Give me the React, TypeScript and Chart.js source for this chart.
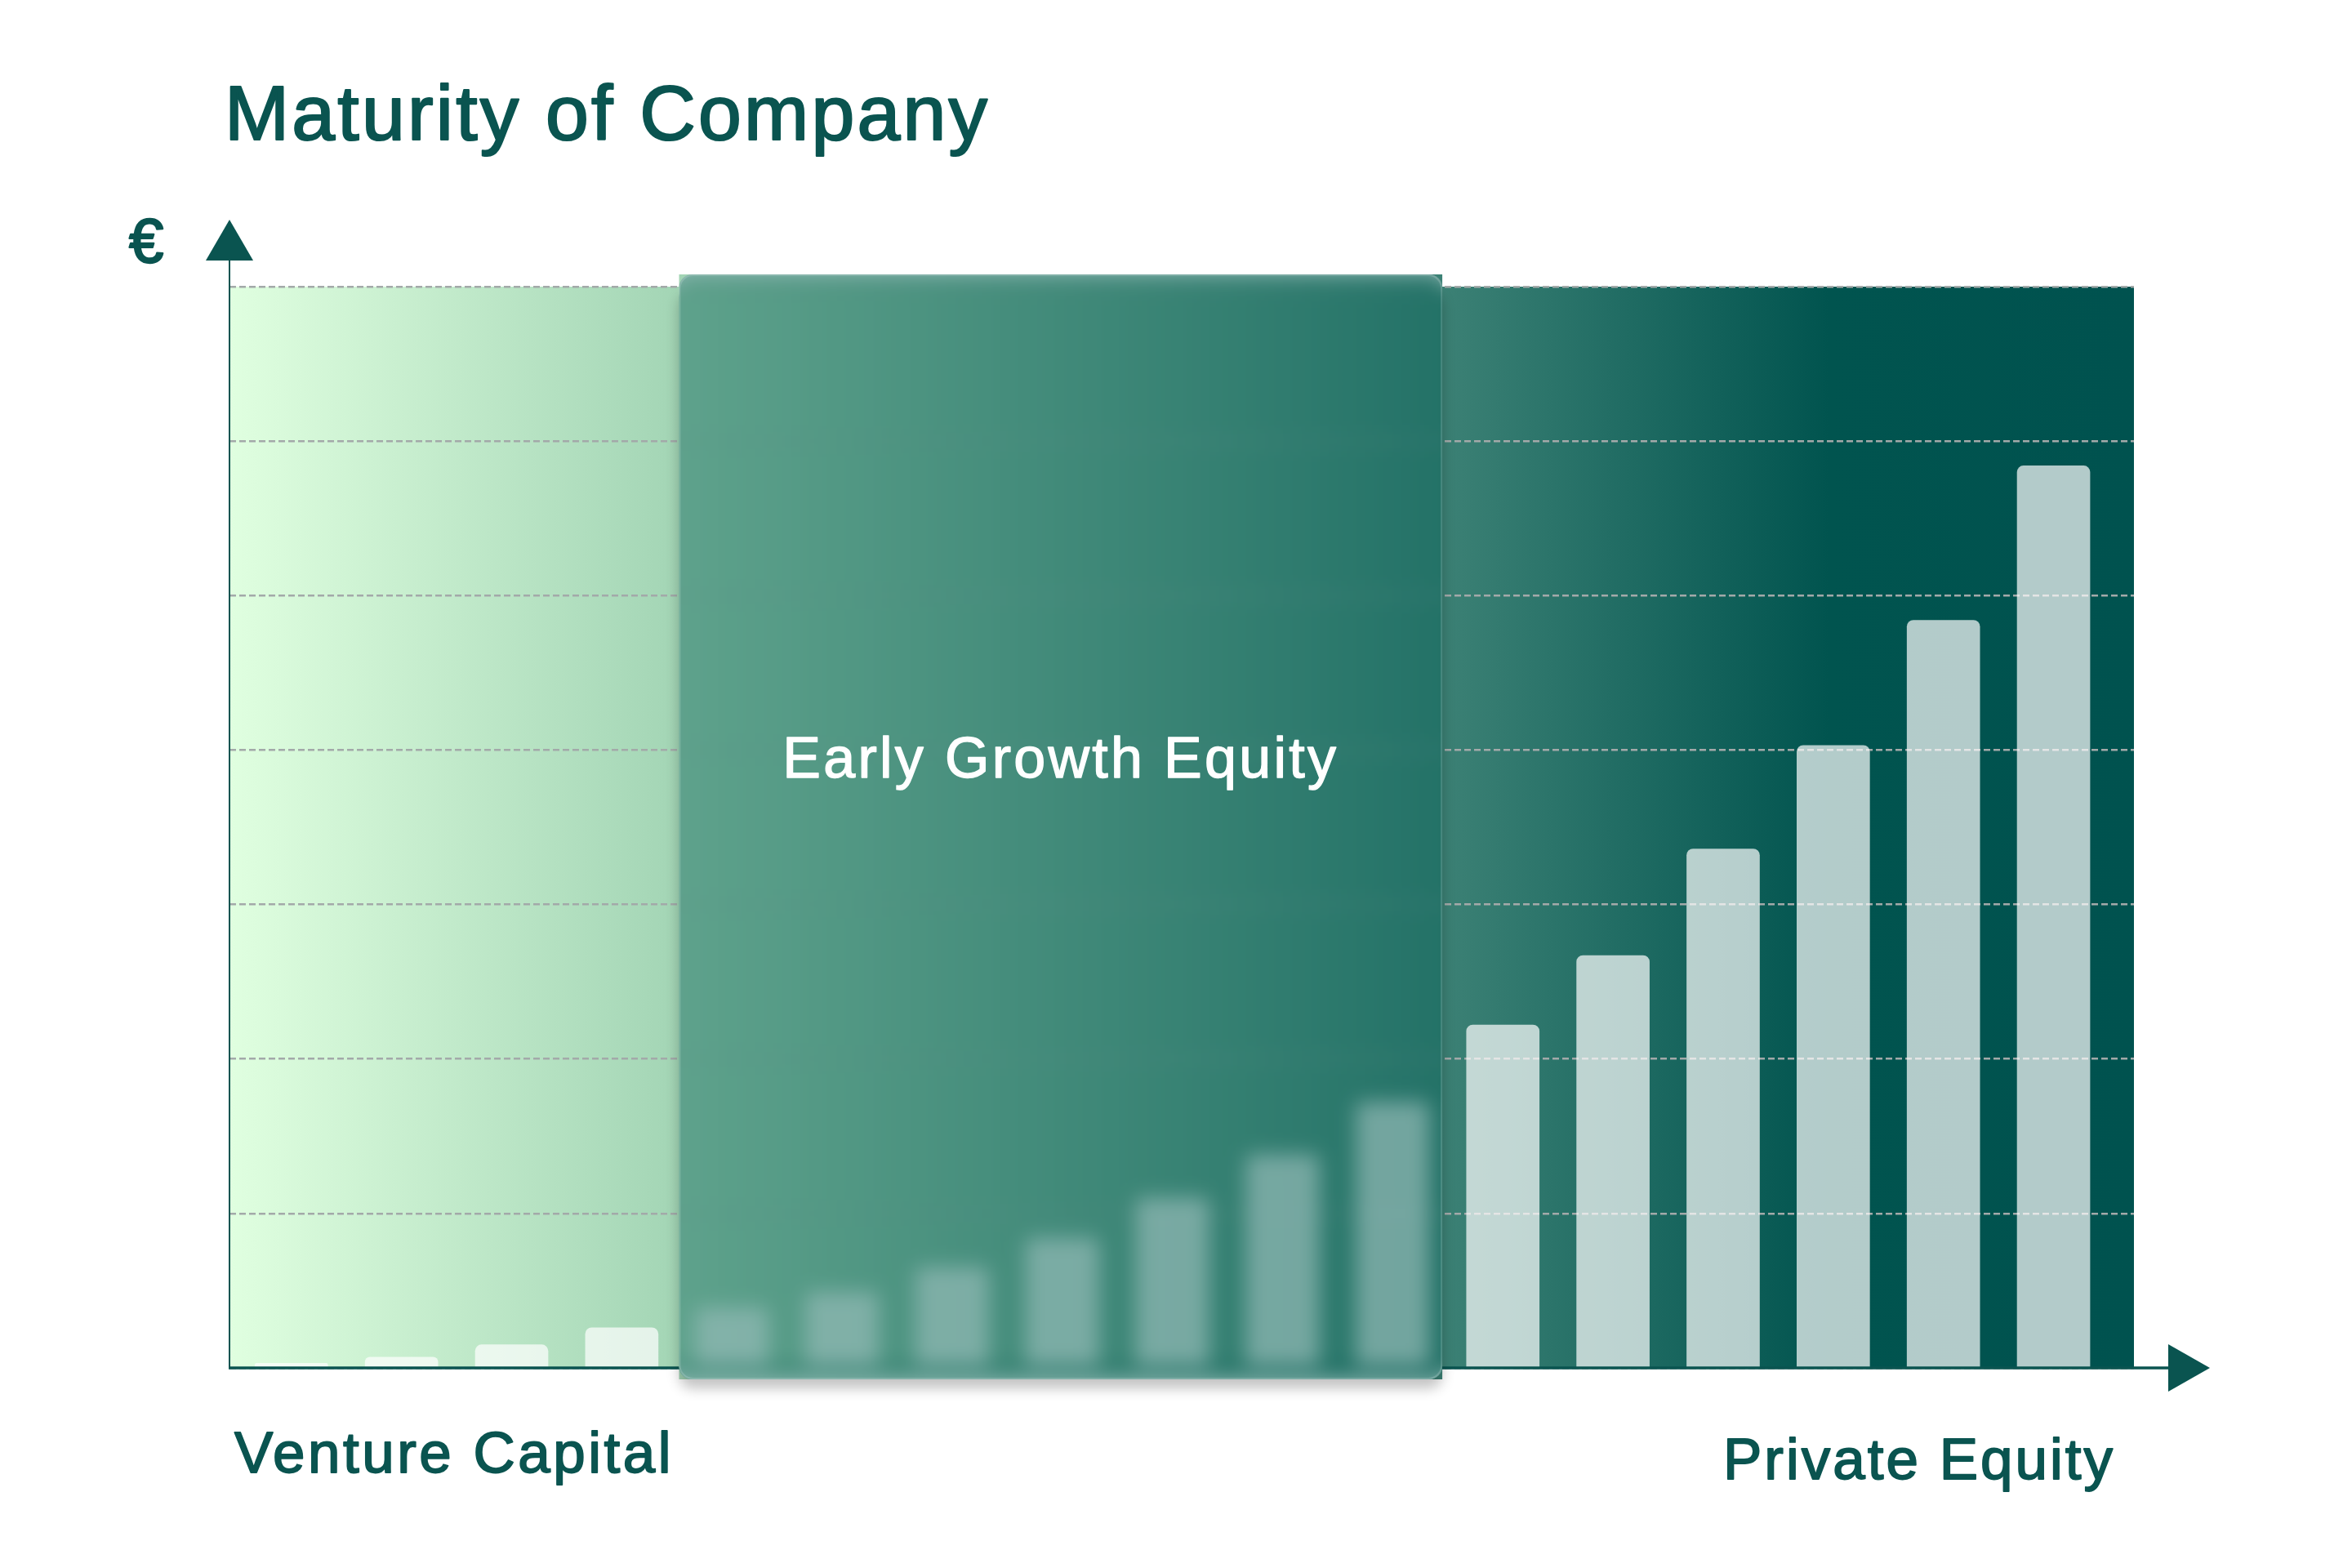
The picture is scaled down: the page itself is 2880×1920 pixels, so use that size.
import { useEffect, useRef } from 'react';
import { Chart, registerables } from 'chart.js';

Chart.register(...registerables);

// ---- data ----
const stageIndex = [0, 1, 2, 3, 4, 5, 6, 7, 8, 9, 10, 11, 12, 13, 14, 15, 16];
const capitalValues = [0.03, 0.07, 0.15, 0.26, 0.39, 0.49, 0.65, 0.84, 1.1, 1.38, 1.72, 2.22, 2.67, 3.36, 4.03, 4.84, 5.84];
const yGridTicks = [0, 1, 2, 3, 4, 5, 6, 7];
const panelStageRange = [3.52, 10.45];

const titleText = 'Maturity of Company';
const yAxisSymbol = '€';
const startLabel = 'Venture Capital';
const endLabel = 'Private Equity';
const panelLabel = 'Early Growth Equity';

const TEAL = '#0a5450';
const FONT = '"Liberation Sans", Arial, sans-serif';

function drawText(ctx: CanvasRenderingContext2D, text: string, x: number, y: number, size: number, spacing: number, color: string, align: CanvasTextAlign = 'left', weight = 1.6) {
  ctx.save();
  ctx.font = `${size}px ${FONT}`;
  (ctx as any).letterSpacing = `${spacing}px`;
  ctx.fillStyle = color;
  ctx.strokeStyle = color;
  ctx.lineWidth = weight;
  ctx.lineJoin = 'round';
  ctx.textAlign = align;
  ctx.textBaseline = 'alphabetic';
  ctx.fillText(text, x, y);
  if (weight > 0) ctx.strokeText(text, x, y);
  ctx.restore();
}

function makeGradient(ctx: CanvasRenderingContext2D, left: number, right: number) {
  const g = ctx.createLinearGradient(left, 0, right, 0);
  g.addColorStop(0, '#e0ffe0');
  g.addColorStop(0.235, '#a3d5b5');
  g.addColorStop(0.637, '#3c8175');
  g.addColorStop(0.84, '#01544f');
  g.addColorStop(1, '#00524f');
  return g;
}

const decorPlugin = {
  id: 'decor',
  beforeDraw(chart: any) {
    const { ctx, chartArea: a, scales } = chart;
    ctx.save();
    ctx.fillStyle = '#ffffff';
    ctx.fillRect(0, 0, chart.width, chart.height);
    const g = makeGradient(ctx, a.left, a.right);
    ctx.fillStyle = g;
    ctx.fillRect(a.left, a.top, a.right - a.left, a.bottom - a.top);
    const px1 = scales.x.getPixelForValue(panelStageRange[0]);
    const px2 = scales.x.getPixelForValue(panelStageRange[1]);
    ctx.fillRect(px1, a.top - 15, px2 - px1, a.bottom - a.top + 29);
    ctx.restore();
  },
  afterDraw(chart: any) {
    const { ctx, chartArea: a, scales, canvas } = chart;
    ctx.save();
    ctx.strokeStyle = TEAL;
    ctx.fillStyle = TEAL;
    ctx.lineWidth = 2;
    ctx.beginPath();
    ctx.moveTo(a.left, a.bottom);
    ctx.lineTo(a.left, a.top - 40);
    ctx.stroke();
    ctx.beginPath();
    ctx.moveTo(a.left, a.top - 82);
    ctx.lineTo(a.left + 29, a.top - 32);
    ctx.lineTo(a.left - 29, a.top - 32);
    ctx.closePath();
    ctx.fill();
    ctx.lineWidth = 3.5;
    ctx.beginPath();
    ctx.moveTo(a.left - 1, a.bottom);
    ctx.lineTo(a.right + 45, a.bottom);
    ctx.stroke();
    ctx.beginPath();
    ctx.moveTo(a.right + 93, a.bottom);
    ctx.lineTo(a.right + 42, a.bottom - 29);
    ctx.lineTo(a.right + 42, a.bottom + 29);
    ctx.closePath();
    ctx.fill();
    ctx.restore();

    const snap = document.createElement('canvas');
    snap.width = canvas.width;
    snap.height = canvas.height;
    snap.getContext('2d')!.drawImage(canvas, 0, 0);

    const px1 = scales.x.getPixelForValue(panelStageRange[0]);
    const px2 = scales.x.getPixelForValue(panelStageRange[1]);
    const pt = a.top - 15;
    const pb = a.bottom + 14;
    const r = 16;

    ctx.save();
    ctx.shadowColor = 'rgba(0,0,0,0.24)';
    ctx.shadowBlur = 16;
    ctx.shadowOffsetY = 11;
    ctx.fillStyle = '#3f8a7a';
    ctx.beginPath();
    (ctx as any).roundRect(px1, pt + 12, px2 - px1, pb - pt - 12, r);
    ctx.fill();
    ctx.restore();

    ctx.save();
    ctx.beginPath();
    (ctx as any).roundRect(px1, pt, px2 - px1, pb - pt, r);
    ctx.clip();
    ctx.filter = 'blur(12px)';
    ctx.drawImage(snap, 0, 0);
    ctx.filter = 'none';
    ctx.fillStyle = 'rgba(5, 96, 85, 0.43)';
    ctx.fillRect(px1, pt, px2 - px1, pb - pt);
    ctx.restore();

    ctx.save();
    ctx.strokeStyle = 'rgba(255,255,255,0.16)';
    ctx.lineWidth = 2;
    ctx.beginPath();
    (ctx as any).roundRect(px1 + 1, pt + 1, px2 - px1 - 2, pb - pt - 2, r);
    ctx.stroke();
    ctx.restore();

    drawText(ctx, panelLabel, (px1 + px2) / 2, 952, 70, 3.3, '#ffffff', 'center', 1.4);
    drawText(ctx, titleText, 275, 171, 95, 3.2, TEAL, 'left', 2.2);
    drawText(ctx, yAxisSymbol, 158, 321, 76, 0, TEAL, 'left', 2.4);
    drawText(ctx, startLabel, 287, 1803, 71, 3.5, TEAL, 'left', 1.8);
    drawText(ctx, endLabel, 2110, 1811, 71, 3.0, TEAL, 'left', 1.8);
  },
};

export default function App() {
  const ref = useRef<HTMLCanvasElement>(null);
  useEffect(() => {
    document.body.style.margin = '0';
    const chart = new Chart(ref.current!, {
      type: 'bar',
      data: {
        datasets: [
          {
            label: 'Capital',
            data: stageIndex.map((s, i) => ({ x: s, y: capitalValues[i] })),
            backgroundColor: 'rgba(255,255,255,0.7)',
            borderWidth: 0,
            borderRadius: 8,
            borderSkipped: 'start',
            barThickness: 89,
          },
        ],
      },
      options: {
        responsive: false,
        animation: false,
        devicePixelRatio: 1,
        layout: { padding: { left: 281, right: 267, top: 351, bottom: 245 } },
        plugins: { legend: { display: false }, title: { display: false }, tooltip: { enabled: false } },
        scales: {
          x: { type: 'linear', min: -0.562, max: 16.73, display: false, offset: false },
          y: {
            min: yGridTicks[0],
            max: yGridTicks[yGridTicks.length - 1],
            z: 1,
            afterBuildTicks: (s: any) => {
              s.ticks = yGridTicks.map((v) => ({ value: v }));
            },
            ticks: { display: false },
            grid: { color: '#a3a9a9', lineWidth: 2.5, drawTicks: false },
            border: { display: false, dash: [8, 4] },
          },
        },
      } as any,
      plugins: [decorPlugin],
    });
    return () => chart.destroy();
  }, []);
  return (
    <div style={{ position: 'absolute', left: 0, top: 0, width: 2880, height: 1920, background: '#fff' }}>
      <canvas ref={ref} width={2880} height={1920} style={{ display: 'block' }} />
    </div>
  );
}
